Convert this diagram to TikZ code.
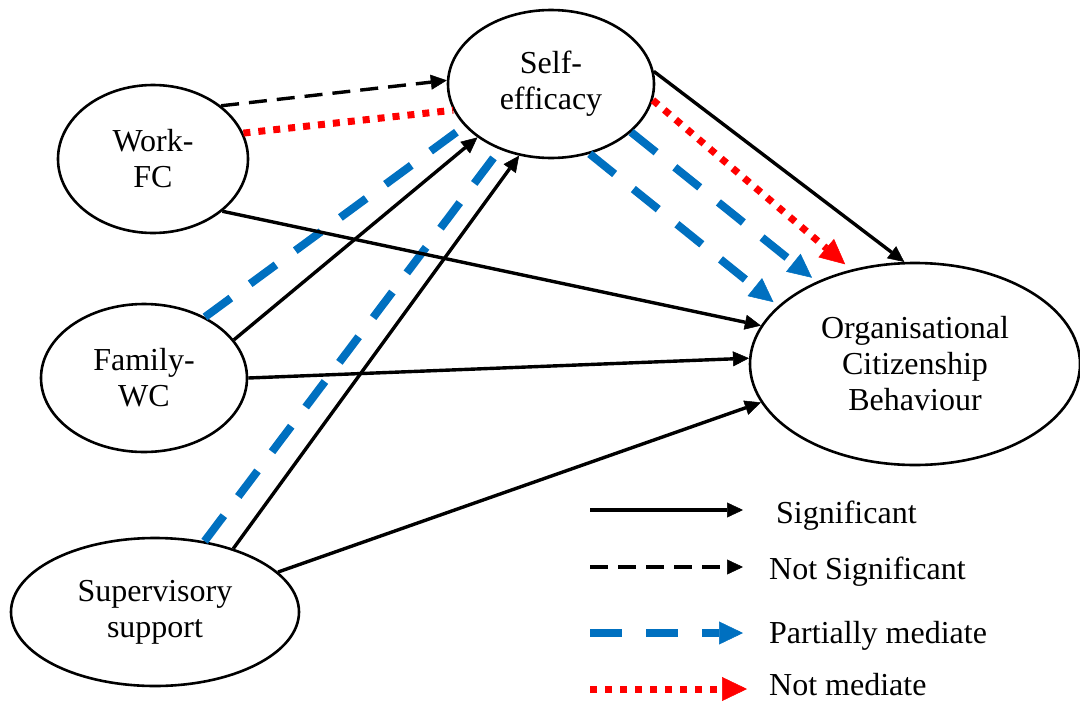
\documentclass[tikz,border=0pt]{standalone}
\usepackage{fontspec}
\setmainfont{Liberation Serif}
\usetikzlibrary{shapes.geometric,arrows.meta}
\definecolor{medblue}{RGB}{0,112,192}
\begin{document}
\begin{tikzpicture}[x=1pt,y=-1pt,
  construct/.style={ellipse,draw,line width=2.6pt,inner sep=0pt,align=center,
    font=\fontsize{32}{36}\selectfont},
  sig/.style={line width=3.4pt,-{Triangle[length=16pt,width=15pt,line width=0.5pt]}},
  nsig/.style={line width=3.4pt,dash pattern=on 18pt off 10pt,-{Triangle[length=16pt,width=15pt,line width=0.5pt]}},
  pmed/.style={medblue,line width=8pt,dash pattern=on 32pt off 24pt},
  pmedtip/.style={pmed,-{Triangle[length=24pt,width=23pt,line width=0.5pt]}},
  nmed/.style={red,line width=7pt,dash pattern=on 7pt off 8pt},
  nmedtip/.style={nmed,-{Triangle[length=25pt,width=24pt,line width=0.5pt]}},
  legtext/.style={anchor=base west,inner sep=0pt,font=\fontsize{32}{36}\selectfont}
]
\useasboundingbox (0,0) rectangle (1080,702);

% constructs
\node[construct,minimum width=206pt,minimum height=148pt] (se) at (551,84) {Self-\\efficacy};
\node[construct,minimum width=190pt,minimum height=148pt] (wf) at (153,159) {Work-\\FC};
\node[construct,minimum width=206pt,minimum height=148pt] (fw) at (144,378) {Family-\\WC};
\node[construct,minimum width=288pt,minimum height=148pt] (sv) at (155,612) {Supervisory\\support};
\node[construct,minimum width=330pt,minimum height=202pt] (ocb) at (915,364) {Organisational\\Citizenship\\Behaviour};

% mediation paths
\draw[pmed] (fw.45) -- (se.206);
\draw[pmed] (sv.55) -- (se.232);
\draw[pmedtip,shorten >=6pt] (se.-31) -- (ocb.140);
\draw[pmedtip,shorten >=6pt] (se.-61) -- (ocb.157);
\draw[nmed] (wf.16) -- (se.195);
\draw[nmedtip,shorten >=8pt] (se.-9) -- (ocb.124);

% direct paths
\draw[nsig] (wf.38) -- (se.178);
\draw[sig] (fw.23) -- (se.216);
\draw[sig] (sv.39) -- (se.246);
\draw[sig] (wf.-37) -- (ocb.166);
\draw[sig] (fw.0) -- (ocb.178);
\draw[sig] (sv.18) -- (ocb.194);
\draw[sig] (se.7) -- (ocb.96);

% legend
\coordinate (ls1) at (590,510); \coordinate (le1) at (743,510);
\coordinate (ls2) at (590,567); \coordinate (le2) at (743,567);
\coordinate (ls3) at (590,633); \coordinate (le3) at (743,633);
\coordinate (ls4) at (590,689); \coordinate (le4) at (747,689);
\draw[sig] (ls1) -- (le1);
\draw[nsig] (ls2) -- (le2);
\draw[pmedtip] (ls3) -- (le3);
\draw[nmedtip] (ls4) -- (le4);
\node[legtext] (lt1) at (776,523) {Significant};
\node[legtext] (lt2) at (769,579) {Not Significant};
\node[legtext] (lt3) at (769,643) {Partially mediate};
\node[legtext] (lt4) at (769,695) {Not mediate};
\end{tikzpicture}
\end{document}
